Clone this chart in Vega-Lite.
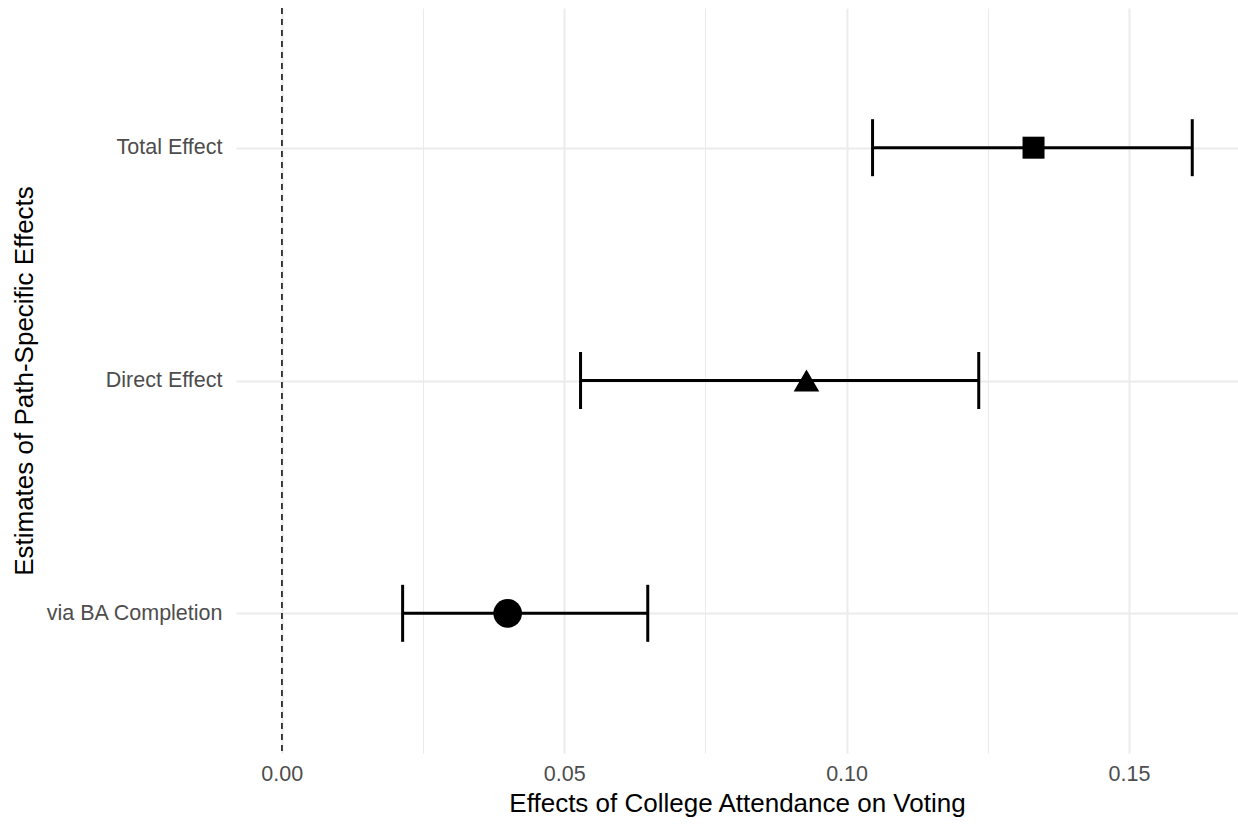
{
  "$schema": "https://vega.github.io/schema/vega-lite/v6.json",
  "autosize": "none",
  "width": 1002,
  "height": 745,
  "padding": {"left": 236, "top": 8, "right": 0, "bottom": 72},
  "background": "white",
  "config": {
    "view": {"stroke": null},
    "font": "Liberation Sans",
    "axis": {
      "labelFont": "Liberation Sans",
      "titleFont": "Liberation Sans",
      "labelColor": "#4d4d4d",
      "titleColor": "#000000",
      "labelFontSize": 21.5,
      "titleFontSize": 26,
      "titleFontWeight": "normal",
      "domain": false,
      "ticks": false,
      "gridColor": "#ebebeb"
    }
  },
  "data": {
    "values": [
      {"effect": "Total Effect", "est": 0.1331, "lo": 0.1046, "hi": 0.1612},
      {"effect": "Direct Effect", "est": 0.0929, "lo": 0.0529, "hi": 0.1234},
      {"effect": "via BA Completion", "est": 0.0400, "lo": 0.0214, "hi": 0.0648}
    ]
  },
  "encoding": {
    "y": {
      "field": "effect",
      "type": "nominal",
      "sort": ["Total Effect", "Direct Effect", "via BA Completion"],
      "scale": {"type": "point", "padding": 0.6},
      "axis": {
        "title": "Estimates of Path-Specific Effects",
        "grid": true,
        "gridWidth": 2,
        "labelPadding": 14,
        "titlePadding": 8
      }
    }
  },
  "layer": [
    {
      "mark": {"type": "rule", "strokeDash": [6, 5], "color": "#333333", "strokeWidth": 1.5},
      "encoding": {
        "x": {
          "datum": 0,
          "type": "quantitative",
          "scale": {"domain": [-0.0081, 0.1693], "nice": false, "zero": false},
          "axis": {
            "title": "Effects of College Attendance on Voting",
            "values": [0, 0.025, 0.05, 0.075, 0.1, 0.125, 0.15],
            "labelExpr": "round(datum.value*1000) % 50 == 0 ? format(datum.value, '.2f') : ''",
            "grid": true,
            "gridWidth": {"condition": {"test": "round(datum.value*1000) % 50 == 0", "value": 2}, "value": 1},
            "labelPadding": 10,
            "titlePadding": 6
          }
        },
        "y": null
      }
    },
    {
      "mark": {"type": "rule", "color": "black", "strokeWidth": 3},
      "encoding": {
        "x": {"field": "lo", "type": "quantitative", "title": "Effects of College Attendance on Voting"},
        "x2": {"field": "hi"}
      }
    },
    {
      "mark": {"type": "tick", "color": "black", "size": 57, "thickness": 3, "orient": "vertical", "opacity": 1},
      "encoding": {
        "x": {"field": "lo", "type": "quantitative", "title": "Effects of College Attendance on Voting"}
      }
    },
    {
      "mark": {"type": "tick", "color": "black", "size": 57, "thickness": 3, "orient": "vertical", "opacity": 1},
      "encoding": {
        "x": {"field": "hi", "type": "quantitative", "title": "Effects of College Attendance on Voting"}
      }
    },
    {
      "mark": {"type": "point", "filled": true, "color": "black", "opacity": 1},
      "encoding": {
        "x": {"field": "est", "type": "quantitative", "title": "Effects of College Attendance on Voting"},
        "shape": {
          "field": "effect",
          "type": "nominal",
          "scale": {"domain": ["Total Effect", "Direct Effect", "via BA Completion"], "range": ["square", "triangle-up", "circle"]},
          "legend": null
        },
        "size": {
          "field": "effect",
          "type": "nominal",
          "scale": {"domain": ["Total Effect", "Direct Effect", "via BA Completion"], "range": [484, 820, 350]},
          "legend": null
        }
      }
    }
  ]
}
